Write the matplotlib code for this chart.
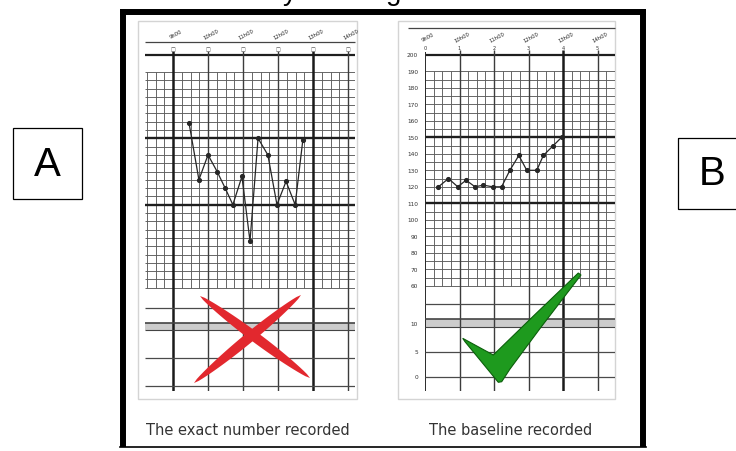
import numpy as np
import matplotlib.pyplot as plt
from matplotlib.patches import Rectangle, Polygon

W, H = 736, 452

# fetal heart rate readings: time (hours after first hour line), bpm
left_t = [0.46, 0.74, 1.0, 1.26, 1.49, 1.71, 1.97, 2.2, 2.43, 2.71, 2.97, 3.23, 3.49, 3.71]
left_fhr = [159, 125, 140, 130, 120, 110, 127, 88, 150, 140, 110, 124, 110, 149]
right_t = [0.39, 0.68, 0.95, 1.19, 1.45, 1.69, 1.96, 2.22, 2.46, 2.72, 2.95, 3.24, 3.43, 3.72, 3.96]
right_fhr = [120, 125, 120, 124, 120, 121, 120, 120, 130, 139, 130, 130, 139, 145, 150]

hours = [0, 1, 2, 3, 4, 5]
hour_labels = ['9h00', '10h00', '11h00', '12h00', '13h00', '14h00']
fhr_ticks = [60, 70, 80, 90, 100, 110, 120, 130, 140, 150, 160, 170, 180, 190, 200]
normal_band = [110, 150]
contr_ticks = [0, 5, 10]
captions = ['The exact number recorded', 'The baseline recorded']
letters = ['A', 'B']

fig = plt.figure(figsize=(W / 100, H / 100), dpi=100)


def px_axes(x0, y0, x1, y1, z):
    ax = fig.add_axes([x0 / W, 1 - y1 / H, (x1 - x0) / W, (y1 - y0) / H])
    ax.set_zorder(z)
    ax.axis('off')
    return ax


# background: frame, panel boxes, letters, captions
bg = px_axes(0, 0, W, H, 0)
bg.set_xlim(0, W)
bg.set_ylim(H, 0)
bg.plot([123, 123], [10, 448], color='k', lw=4.3, solid_capstyle='butt')
bg.plot([120, 646], [13, 13], color='k', lw=4.3, solid_capstyle='butt')
bg.plot([643, 643], [10, 448], color='k', lw=4.3, solid_capstyle='butt')
bg.plot([120, 646], [448, 448], color='k', lw=1.2)
bg.add_patch(Rectangle((138, 22), 219, 378, fill=False, ec='#d4d4d4', lw=1))
bg.add_patch(Rectangle((398, 22), 217, 378, fill=False, ec='#d4d4d4', lw=1))
bg.add_patch(Rectangle((13, 129), 69, 71, fill=False, ec='k', lw=0.9))
bg.add_patch(Rectangle((678, 139), 70, 71, fill=False, ec='k', lw=0.9, clip_on=False))
bg.text(47.5, 165, letters[0], fontsize=29, family='Liberation Sans', ha='center', va='center')
bg.text(712, 174, letters[1], fontsize=29, family='Liberation Sans', ha='center', va='center')
# descenders of a title line that is cut off by the top edge
bg.text(290, 0, 'y', fontsize=20, family='Liberation Sans', ha='center', va='baseline')
bg.text(394, 0, 'g', fontsize=20, family='Liberation Sans', ha='center', va='baseline')
bg.text(248, 431, captions[0], fontsize=10.5, color='#333333', ha='center', va='center')
bg.text(511, 431, captions[1], fontsize=10.5, color='#333333', ha='center', va='center')


def draw_panel(t, fhr, xz, pph, xl, xr, y150, ppb, y0c, ppu, thin_y, lab_y, mark_y,
               thick, axis_line, lower_lines, band, marks):
    x_lo, x_hi = (xl - xz) / pph, (xr - xz) / pph
    top = y150 - 52 * ppb
    bot = y150 + 92.5 * ppb

    hdr = px_axes(xl, 22, xr, top, 2)
    hdr.set_xlim(x_lo, x_hi)
    hdr.set_ylim(top, 22)
    fa = px_axes(xl, top, xr, bot, 2)
    fa.set_xlim(x_lo, x_hi)
    fa.set_ylim(57.5, 202)
    la = px_axes(xl, bot, xr, 392, 2)
    la.set_xlim(x_lo, x_hi)
    la.set_ylim((y0c - 392) / ppu, (y0c - bot) / ppu)

    # fine grid
    minor_x = np.arange(np.ceil(x_lo * 4) / 4, x_hi, 0.25)
    fa.vlines(minor_x, 60, 190, color='#5c5c5c', lw=0.65)
    fa.hlines(np.arange(60, 191, 5), x_lo, x_hi, color='#5c5c5c', lw=0.65)
    fa.hlines(normal_band, x_lo, x_hi, color='#1e1e1e', lw=1.7)
    fa.hlines(200, x_lo, x_hi, color='#1e1e1e', lw=1.6)

    # hour lines
    for h in hours:
        if not (x_lo <= h <= x_hi):
            continue
        lw = 1.8 if h in thick else 1.0
        col = '#1a1a1a' if h in thick else '#3c3c3c'
        if axis_line and h == 0:
            lw, col = 1.4, '#2a2a2a'
        else:
            hdr.vlines(h, mark_y + 3, top, color=col, lw=lw)
        fa.axvline(h, color=col, lw=lw)
        la.axvline(h, color=col, lw=lw)

    # header
    ext = 0.5 if axis_line else 0
    hdr.hlines(thin_y, x_lo - ext, x_hi, color='#444444', lw=0.9, clip_on=False)
    for h, lbl, mk in zip(hours, hour_labels, marks):
        hdr.text(h + 0.08, lab_y, lbl, rotation=28, fontsize=3.8, color='#222222',
                 ha='center', va='center')
        hdr.text(h, mark_y, mk, fontsize=3.6, color='#333333', ha='center', va='center')

    # contraction section
    la.hlines(lower_lines, x_lo, x_hi, color='#4a4a4a', lw=0.9)
    la.fill_between([x_lo, x_hi], band[0], band[1], color='#cccccc', lw=0)
    la.hlines(band, x_lo, x_hi, color='#444444', lw=[0.8, 1.2])

    if axis_line:
        for v in fhr_ticks:
            fa.text(-0.2, v, str(v), fontsize=4.2, color='#333333', ha='right',
                    va='center', clip_on=False)
        for v in contr_ticks:
            yv = v + 0.6 if v == 10 else v
            la.text(-0.2, yv, str(v), fontsize=4.2, color='#333333', ha='right',
                    va='center', clip_on=False)

    fa.plot(t, fhr, '-o', color='#262626', lw=0.9, ms=2.7, zorder=5)


draw_panel(left_t, left_fhr, 173, 35, 145, 355, 139.3, 1.66, 387, 5.6,
           43, 35, 50, [0, 4], False, [0, 5, 14], [10, 11.3],
           ['\u25a1'] * 6)
draw_panel(right_t, right_fhr, 425, 34.5, 425, 615, 138.3, 1.65, 378, 5.0,
           29, 38, 48, [4], True, [0, 5, 14.6], [10, 11.6],
           ['0', '1', '2', '3', '4', '5'])

# foreground: red cross and green tick
fg = px_axes(0, 0, W, H, 5)
fg.set_xlim(0, W)
fg.set_ylim(H, 0)


def stroke(p0, p1, w):
    p0, p1 = np.array(p0, float), np.array(p1, float)
    d = p1 - p0
    n = np.array([-d[1], d[0]]) / np.hypot(*d)
    s = np.linspace(0, 1, 30)
    half = 0.5 * w * np.sin(np.pi * s) ** 0.6
    pts = p0 + np.outer(s, d)
    return np.vstack([pts + np.outer(half, n), (pts - np.outer(half, n))[::-1]])


fg.add_patch(Polygon(stroke((200, 297), (310, 379), 10), color='#e2282e', lw=0))
fg.add_patch(Polygon(stroke((301, 296), (194, 384), 10), color='#e2282e', lw=0))

check = [(462.7, 339.3), (493.3, 356), (535.5, 315), (578.3, 274), (581, 276),
         (540, 329.5), (510, 370), (501.7, 382.7), (498.3, 383.3), (465, 342.7)]
fg.add_patch(Polygon(check, fc='#1e9a1e', ec='#0b5e0b', lw=0.8))

fig.savefig('out.png', dpi=100)
